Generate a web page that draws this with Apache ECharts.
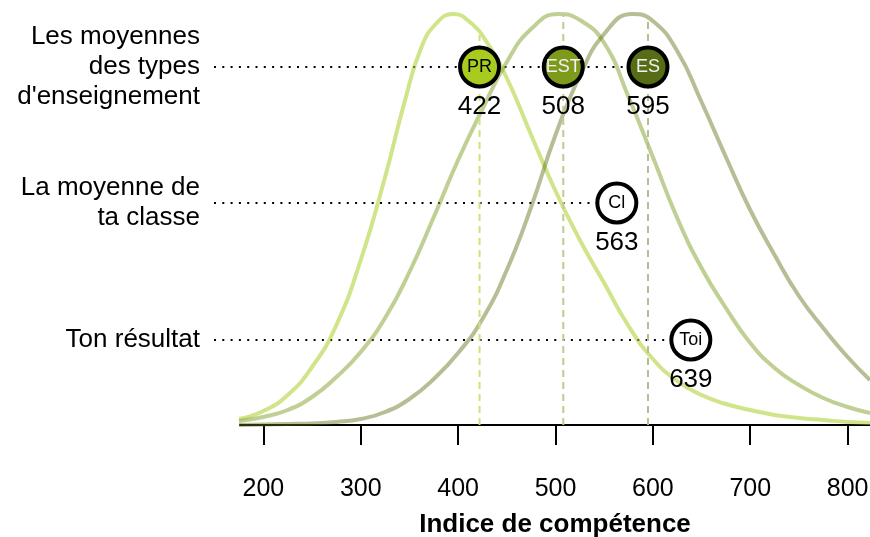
<!DOCTYPE html>
<html><head><meta charset="utf-8">
<script src="https://cdn.jsdelivr.net/npm/echarts@6/dist/echarts.min.js"></script>
<style>html,body{margin:0;padding:0;background:#fff}#c{width:870px;height:537px}</style>
</head><body><div id="c"></div>
<script>
// ---- data ----
const xTicks = [200, 300, 400, 500, 600, 700, 800];
const xRange = [176, 823];
// density curves: competence index samples and relative heights (peak ≈ 411)
const curvePRx  = [175,200,225,250,275,300,325,345,362,378,395,412,430,450,475,500,525,550,575,600,625,650,675,700,725,750,775,800,823];
const curvePR   = [6,14,30,58,100,165,248,323,377,402,411,403,382,347,290,234,185,142,99,66,44,30,21,15,10,7,5,3,2];
const curveESTx = [175,200,225,250,275,300,325,350,375,400,425,450,475,503,525,550,575,600,625,650,675,700,725,750,775,800,823];
const curveEST  = [4,8,15,28,48,73,107,153,208,265,316,363,396,411,405,382,328,268,207,157,117,82,57,40,27,18,12];
const curveESx  = [175,200,225,250,275,300,325,350,375,400,425,450,475,500,525,550,579,600,625,650,675,700,725,750,775,800,823];
const curveES   = [0,0.5,1,1.5,3,6,13,26,46,72,106,155,218,290,349,391,411,404,374,323,268,215,170,129,97,68,45];
const meanNames = ['PR', 'EST', 'ES'];
const meanValues = [422, 508, 595];
const meanCurveTop = [390, 410, 405];
const className = 'Cl';
const classValue = 563;
const studentName = 'Toi';
const studentValue = 639;
const rowLabels = ["Les moyennes\ndes types\nd'enseignement", "La moyenne de\nta classe", "Ton résultat"];
const rowLevels = [358, 222, 85];
const axisTitle = 'Indice de compétence';

// ---- styles ----
const FONT = "'Liberation Sans', Arial, sans-serif";
const curveColors = ['rgba(170,205,40,0.55)', 'rgba(130,160,40,0.5)', 'rgba(90,110,20,0.45)'];
const dashColors = ['#cfe07e', '#bfcc8f', '#b5be95'];
const meanFill = ['#a8cb1f', '#7e9a1b', '#566d16'];
const meanText = ['#000', '#f2f2f2', '#f2f2f2'];

const chart = echarts.init(document.getElementById('c'));

const series = [];
[[curvePRx, curvePR], [curveESTx, curveEST], [curveESx, curveES]].forEach(([xs, ys], i) => {
  series.push({type: 'line', data: xs.map((x, k) => [x, ys[k]]), smooth: 0.5, showSymbol: false, symbol: 'none',
    lineStyle: {color: curveColors[i], width: 4}, z: 2, silent: true});
});
meanValues.forEach((v, i) => {
  series.push({type: 'line', data: [[v, 0], [v, meanCurveTop[i]]], showSymbol: false, symbol: 'none',
    lineStyle: {color: dashColors[i], width: 2, type: [7, 5]}, z: 3, silent: true});
});

const circleData = meanValues.map((v, i) => ({
  value: [v, rowLevels[0]], name: meanNames[i],
  itemStyle: {color: meanFill[i]},
  label: {color: meanText[i]}
}));
circleData.push({value: [classValue, rowLevels[1]], name: className, itemStyle: {color: '#fff'}, label: {color: '#000'}});
circleData.push({value: [studentValue, rowLevels[2]], name: studentName, itemStyle: {color: '#fff'}, label: {color: '#000'}});

series.push({type: 'scatter', data: circleData, symbolSize: 39, z: 10,
  itemStyle: {borderColor: '#000', borderWidth: 4, opacity: 1},
  label: {show: true, position: 'inside', formatter: p => p.name, fontFamily: FONT, fontSize: 18}});
series.push({type: 'scatter', data: circleData.map(d => ({value: d.value})), symbolSize: 0, z: 11,
  itemStyle: {color: '#000', opacity: 1},
  labelLayout: {hideOverlap: false},
  label: {show: true, position: 'bottom', distance: 27, formatter: p => String(p.value[0]),
    fontFamily: FONT, fontSize: 26, color: '#000', opacity: 1}});

const option = {
  animation: false,
  backgroundColor: '#fff',
  grid: {left: 240, right: 0, top: 0, bottom: 112, containLabel: false, outerBoundsMode: 'none'},
  xAxis: {
    type: 'value', min: xRange[0], max: xRange[1],
    axisLine: {show: true, lineStyle: {color: '#000', width: 2}},
    axisTick: {show: true, length: 20, lineStyle: {color: '#000', width: 2}, customValues: xTicks},
    axisLabel: {show: true, customValues: xTicks, margin: 52, fontSize: 25, fontFamily: FONT, color: '#000'},
    splitLine: {show: false},
    name: axisTitle, nameLocation: 'middle', nameGap: 87,
    nameTextStyle: {fontSize: 26, fontWeight: 'bold', fontFamily: FONT, color: '#000'}
  },
  yAxis: {
    type: 'value', min: 0, max: 425,
    axisLine: {show: false}, axisTick: {show: false}, splitLine: {show: false},
    axisLabel: {show: true, customValues: rowLevels, margin: 40,
      formatter: v => rowLabels[rowLevels.indexOf(v)] || '',
      fontSize: 26, lineHeight: 30, padding: [6, 0, 0, 0], fontFamily: FONT, color: '#000', align: 'right'}
  },
  series: series
};
chart.setOption(option);

// dotted guide lines from the row labels to the last marker of each row
const rowEnds = [Math.max(...meanValues), classValue, studentValue];
const graphics = rowLevels.map((lvl, i) => {
  const pEnd = chart.convertToPixel({gridIndex: 0}, [rowEnds[i], lvl]);
  const pStart = chart.convertToPixel({gridIndex: 0}, [xRange[0], lvl]);
  return {type: 'line', z: 1, silent: true,
    shape: {x1: pStart[0] - 26, y1: pEnd[1], x2: pEnd[0], y2: pEnd[1]},
    style: {stroke: '#000', lineWidth: 2, lineDash: [2, 6.3]}};
});
chart.setOption({graphic: graphics});
</script>
</body></html>
